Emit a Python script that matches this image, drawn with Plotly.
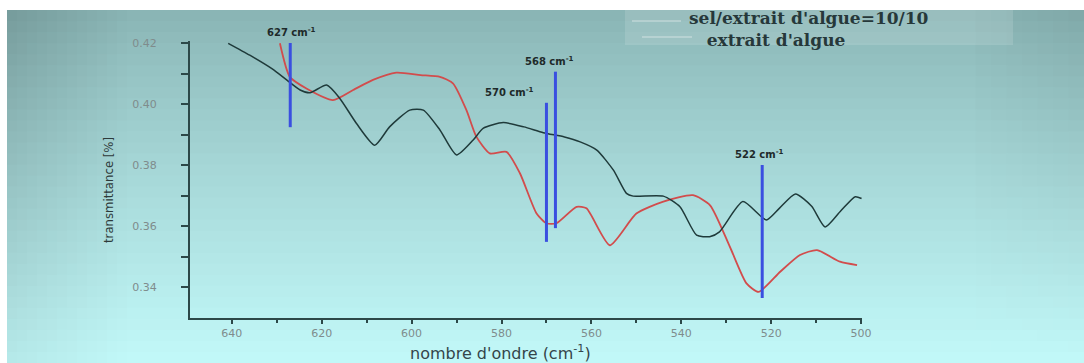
import plotly.graph_objects as go

# ---------------- data ----------------
ext_x = [640.8, 636.0, 631.0, 627.8, 624.8, 622.6, 618.9, 616.0, 612.3, 608.2, 604.9,
         600.4, 597.4, 593.7, 590.0, 586.3, 584.1, 579.6, 575.0, 570.7, 566.0, 562.5,
         558.8, 555.1, 552.2, 550.7, 544.0, 540.3, 536.6, 533.7, 531.5, 526.3, 521.1,
         518.2, 514.6, 511.0, 508.0, 504.5, 501.3, 499.9]
ext_y = [0.4199, 0.4160, 0.4115, 0.4079, 0.4046, 0.4037, 0.4062, 0.4019, 0.3937, 0.3865, 0.3925,
         0.3980, 0.3980, 0.3915, 0.3833, 0.3882, 0.3920, 0.3939, 0.3925, 0.3906, 0.3892, 0.3876,
         0.3849, 0.3783, 0.3707, 0.3698, 0.3698, 0.3663, 0.3570, 0.3565, 0.3581, 0.3680, 0.3620,
         0.3658, 0.3705, 0.3665, 0.3597, 0.3650, 0.3696, 0.3690]

sel_x = [629.3, 627.1, 623.4, 617.5, 613.0, 608.6, 603.4, 598.0, 593.7, 590.8, 587.8,
         585.6, 582.6, 578.9, 575.9, 572.2, 570.0, 567.8, 563.3, 561.1, 555.9, 550.0,
         544.0, 537.4, 533.6, 529.2, 525.5, 522.8, 518.0, 513.6, 509.8, 504.7, 500.9]
sel_y = [0.4199, 0.4089, 0.4051, 0.4013, 0.4046, 0.4079, 0.4103, 0.4095, 0.4089, 0.4068, 0.3980,
         0.3893, 0.3838, 0.3843, 0.3773, 0.3641, 0.3609, 0.3609, 0.3663, 0.3658, 0.3537, 0.3641,
         0.3680, 0.3701, 0.3668, 0.3532, 0.3412, 0.3384, 0.3450, 0.3505, 0.3521, 0.3483, 0.3472]

peak_x = [627, 570, 568, 522]
peak_top = [0.4200, 0.4004, 0.4106, 0.3800]
peak_bottom = [0.3924, 0.3548, 0.3593, 0.3364]
peak_labels = ["627 cm<sup>-1</sup>", "570 cm<sup>-1</sup>", "568 cm<sup>-1</sup>", "522 cm<sup>-1</sup>"]
label_x = [626.7, 578.2, 569.4, 522.6]

x_ticks = [640, 620, 600, 580, 560, 540, 520, 500]
x_minor = [630, 610, 590, 570, 550, 530, 510]
y_ticks = [0.34, 0.36, 0.38, 0.40, 0.42]
y_minor = [0.35, 0.37, 0.39, 0.41]
series_names = ["sel/extrait d'algue=10/10", "extrait d'algue"]

# ---------------- geometry helpers ----------------
W, H = 1084, 363
L, R, T, B = 190, 862, 41, 318  # plot area in pixels
def xp(px):
    return (px - L) / (R - L)
def yp(py):
    return (B - py) / (B - T)

fig = go.Figure()

# background gradient (styling only)
def lerp(a, b, t):
    return a + (b - a) * t
top_c = (0x88, 0xb3, 0xb3)
bot_c = (0xc2, 0xf9, 0xf9)
shapes = []
nrows = 32
x_edges = [7 + 10 * i for i in range(13)] + [960 + 15.5 * i for i in range(1, 9)]
x_edges[-1] = W
y_edges = [10 + (H - 10) * j / nrows for j in range(nrows + 1)]
for j in range(nrows):
    v = (j + 0.5) / nrows
    base = [lerp(top_c[k], bot_c[k], min(1.0, v ** 0.85)) for k in range(3)]
    for i in range(len(x_edges) - 1):
        u = ((x_edges[i] + x_edges[i + 1]) / 2) / W
        dark = 0.0
        if u < 0.12:
            dark += (1 - u / 0.12) * 0.15 * (1 - 0.55 * v)
        if u > 0.88:
            dark += ((u - 0.88) / 0.12) * 0.07 * (1 - v)
        c = [int(round(max(0, min(255, base[k] * (1 - dark))))) for k in range(3)]
        shapes.append(dict(type="rect", xref="paper", yref="paper", layer="below",
                           x0=xp(x_edges[i]), x1=xp(x_edges[i + 1]) + 0.002,
                           y0=yp(y_edges[j + 1]) - 0.004, y1=yp(y_edges[j]),
                           line=dict(width=0), fillcolor="rgb(%d,%d,%d)" % tuple(c)))

# legend box and line samples (styling)
shapes.append(dict(type="rect", xref="paper", yref="paper", layer="below",
                   x0=xp(625), x1=xp(1013), y0=yp(45), y1=yp(10),
                   line=dict(width=0), fillcolor="rgba(255,255,255,0.13)"))
shapes.append(dict(type="line", xref="paper", yref="paper", x0=xp(632), x1=xp(681),
                   y0=yp(21), y1=yp(21), line=dict(color="rgba(215,228,228,0.9)", width=1)))
shapes.append(dict(type="line", xref="paper", yref="paper", x0=xp(642), x1=xp(692),
                   y0=yp(37), y1=yp(37), line=dict(color="rgba(215,228,228,0.9)", width=1)))

# spectra
fig.add_trace(go.Scatter(x=sel_x, y=sel_y, mode="lines", name=series_names[0],
                         line=dict(color="#d24c4c", width=1.8, shape="spline", smoothing=0.6),
                         showlegend=False))
fig.add_trace(go.Scatter(x=ext_x, y=ext_y, mode="lines", name=series_names[1],
                         line=dict(color="#1f3a3a", width=1.5, shape="spline", smoothing=0.6),
                         showlegend=False))

# peak markers
for px_, t_, b_ in zip(peak_x, peak_top, peak_bottom):
    fig.add_trace(go.Scatter(x=[px_, px_], y=[b_, t_], mode="lines",
                             line=dict(color="#3a4fe0", width=3),
                             showlegend=False, hoverinfo="skip", cliponaxis=False))

annotations = []
for lx, ly, txt in zip(label_x, peak_top, peak_labels):
    annotations.append(dict(x=lx, y=ly, xref="x", yref="y", text="<b>" + txt + "</b>",
                            showarrow=False, yshift=11,
                            font=dict(family="DejaVu Sans", size=10, color="#1e2a2a"),
                            xanchor="center", yanchor="middle"))
nb = "\u00a0"
annotations.append(dict(x=xp(687), y=yp(29), xref="paper", yref="paper",
                        text=series_names[0] + "<br>" + nb * 3 + series_names[1],
                        showarrow=False, xanchor="left", yanchor="middle", align="left",
                        font=dict(family="DejaVu Serif", size=17, color="#26383a", weight="bold")))
annotations.append(dict(x=xp(108), y=yp(190), xref="paper", yref="paper", text="transmittance [%]",
                        showarrow=False, textangle=-90, xanchor="center", yanchor="middle",
                        font=dict(family="DejaVu Sans Condensed, Liberation Sans", size=13, color="#2e3a3a")))
annotations.append(dict(x=xp(500), y=yp(352), xref="paper", yref="paper",
                        text="nombre d'ondre (cm<sup>-1</sup>)",
                        showarrow=False, xanchor="center", yanchor="middle",
                        font=dict(family="DejaVu Sans", size=16, color="#34454a")))

axis_color = "#2c4848"
fig.update_layout(
    width=W, height=H,
    margin=dict(l=L, r=W - R, t=T, b=H - B, pad=0),
    paper_bgcolor="white", plot_bgcolor="rgba(0,0,0,0)",
    shapes=shapes, annotations=annotations,
    showlegend=False,
    xaxis=dict(range=[649.3, 499.8], tickvals=x_ticks, ticktext=[str(v) for v in x_ticks],
               showgrid=False, zeroline=False, showline=True, linecolor=axis_color, linewidth=2,
               ticks="outside", ticklen=4, tickwidth=1.5, tickcolor=axis_color,
               tickfont=dict(family="DejaVu Sans", size=11, color="#7f8c8c"),
               ticklabelstandoff=0,
               minor=dict(tickvals=x_minor, ticks="outside",
                          ticklen=3, tickwidth=1.5, tickcolor=axis_color, showgrid=False)),
    yaxis=dict(range=[0.32984, 0.42066], tickvals=y_ticks, ticktext=["%.2f" % v for v in y_ticks],
               showgrid=False, zeroline=False, showline=True, linecolor=axis_color, linewidth=2,
               ticks="outside", ticklen=7, tickwidth=1.5, tickcolor=axis_color,
               tickfont=dict(family="DejaVu Sans", size=11, color="#7f8c8c"),
               ticklabelstandoff=22,
               minor=dict(tickvals=y_minor, ticks="outside",
                          ticklen=7, tickwidth=1.5, tickcolor=axis_color, showgrid=False)),
)

fig.write_html("out.html", config={"displayModeBar": False},
               post_script="document.body.style.margin='0';")
